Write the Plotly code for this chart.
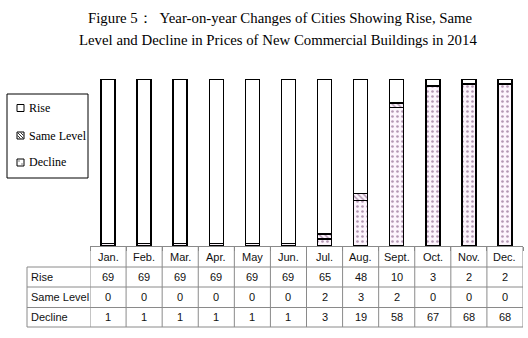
import plotly.graph_objects as go

months = ["Jan.", "Feb.", "Mar.", "Apr.", "May", "Jun.", "Jul.", "Aug.", "Sept.", "Oct.", "Nov.", "Dec."]
rise = [69, 69, 69, 69, 69, 69, 65, 48, 10, 3, 2, 2]
same = [0, 0, 0, 0, 0, 0, 2, 3, 2, 0, 0, 0]
decline = [1, 1, 1, 1, 1, 1, 3, 19, 58, 67, 68, 68]
row_names = ["Rise", "Same Level", "Decline"]
title_lines = ["Figure 5：  Year-on-year Changes of Cities Showing Rise, Same",
               "Level and Decline in Prices of New Commercial Buildings in 2014"]

W, H = 528, 338
def px(x):
    return x / W
def py(y):
    return (H - y) / H

fg = "#6a3a6a"
bg = "#fdf5fd"
fig = go.Figure()
fig.add_trace(go.Bar(x=months, y=decline, name="Decline", showlegend=False,
                     marker=dict(color="white", line=dict(color="black", width=1.5),
                                 pattern=dict(shape=".", fgcolor=fg, bgcolor=bg,
                                              size=5, solidity=0.22, fillmode="overlay"))))
fig.add_trace(go.Bar(x=months, y=same, name="Same Level", showlegend=False,
                     marker=dict(color="white", line=dict(color="black", width=1.5),
                                 pattern=dict(shape="\\", fgcolor="#5a2a5a", bgcolor=bg,
                                              size=4, solidity=0.35, fillmode="overlay"))))
fig.add_trace(go.Bar(x=months, y=rise, name="Rise", showlegend=False,
                     marker=dict(color="white", line=dict(color="black", width=1.5))))

grey = "#8a8a8a"
shapes = []
annotations = []
serif = "Liberation Serif"

# ---- title ----
tf = dict(family=serif, size=14.8, color="black")
annotations.append(dict(x=px(280), y=py(18), xref="paper", yref="paper", text=title_lines[0],
                        showarrow=False, font=tf, xanchor="center", yanchor="middle"))
annotations.append(dict(x=px(278), y=py(40), xref="paper", yref="paper", text=title_lines[1],
                        showarrow=False, font=tf, xanchor="center", yanchor="middle"))

# ---- legend (manual, box + icons) ----
shapes.append(dict(type="rect", xref="paper", yref="paper", x0=px(7), x1=px(88), y0=py(178), y1=py(94),
                   line=dict(color="black", width=1), fillcolor="white", layer="below"))
leg_y = [108, 135.5, 162.5]
lf = dict(family=serif, size=12, color="black")
for name, yy in zip(row_names, leg_y):
    shapes.append(dict(type="rect", xref="paper", yref="paper", x0=px(17), x1=px(24),
                       y0=py(yy + 3.5), y1=py(yy - 3.5), line=dict(color="black", width=1),
                       fillcolor="white"))
    annotations.append(dict(x=px(27), y=py(yy), xref="paper", yref="paper", text=name,
                            showarrow=False, font=lf, xanchor="left", yanchor="middle"))
# hatch for "Same Level" icon
yy = leg_y[1]
for d in (-3, 0, 3):
    xa, xb = 17.5 + max(d, 0), 23.5 + min(d, 0)
    ya, yb = yy - 3 - min(d, 0), yy + 3 - max(d, 0)
    shapes.append(dict(type="line", xref="paper", yref="paper",
                       x0=px(xa), x1=px(xb), y0=py(ya), y1=py(yb), line=dict(color="#333", width=1)))
# dots for "Decline" icon
yy = leg_y[2]
for dx, dy in ((-1.5, -1.5), (1.5, 1.5)):
    shapes.append(dict(type="rect", xref="paper", yref="paper", x0=px(20.5 + dx - 0.6), x1=px(20.5 + dx + 0.6),
                       y0=py(yy + dy + 0.6), y1=py(yy + dy - 0.6), line=dict(width=0), fillcolor="#333"))

# ---- data table ----
x_left = 27
rows_y = [246, 267, 287, 307.5, 327]
n = len(months)
for yy in rows_y[1:]:
    shapes.append(dict(type="line", xref="paper", yref="paper", x0=px(x_left), x1=px(523),
                       y0=py(yy), y1=py(yy), line=dict(color=grey, width=1)))
shapes.append(dict(type="line", xref="paper", yref="paper", x0=px(x_left), x1=px(x_left),
                   y0=py(rows_y[1]), y1=py(rows_y[-1]), line=dict(color=grey, width=1)))
for k in range(n + 1):
    shapes.append(dict(type="line", xref="x", yref="paper", x0=k - 0.5, x1=k - 0.5,
                       y0=py(rows_y[0]), y1=py(rows_y[-1]), line=dict(color=grey, width=1)))

tfont = dict(family="Liberation Sans", size=11, color="#111")
for i, m in enumerate(months):
    annotations.append(dict(x=i, y=py((rows_y[0] + rows_y[1]) / 2), xref="x", yref="paper",
                            text=m, showarrow=False, font=tfont, xanchor="center", yanchor="middle"))
for r, (name, vals) in enumerate(zip(row_names, [rise, same, decline])):
    yc = py((rows_y[r + 1] + rows_y[r + 2]) / 2)
    annotations.append(dict(x=px(x_left + 2), y=yc, xref="paper", yref="paper", text=name,
                            showarrow=False, font=tfont, xanchor="left", yanchor="middle"))
    for i, v in enumerate(vals):
        annotations.append(dict(x=i, y=yc, xref="x", yref="paper", text=str(v), showarrow=False,
                                font=tfont, xanchor="center", yanchor="middle"))

fig.update_layout(
    width=W, height=H,
    margin=dict(l=0, r=0, t=0, b=0),
    paper_bgcolor="white", plot_bgcolor="white",
    barmode="stack", bargap=0.61, showlegend=False,
    xaxis=dict(domain=[px(90), px(523)], type="category", range=[-0.5, n - 0.5],
               showticklabels=False, ticks="outside", ticklen=4, tickcolor=grey,
               tickson="boundaries", showline=True, linecolor=grey, linewidth=1,
               showgrid=False, zeroline=False),
    yaxis=dict(domain=[py(246), py(79)], range=[0, 70], visible=False),
    shapes=shapes, annotations=annotations,
)
fig.write_html("out.html")
